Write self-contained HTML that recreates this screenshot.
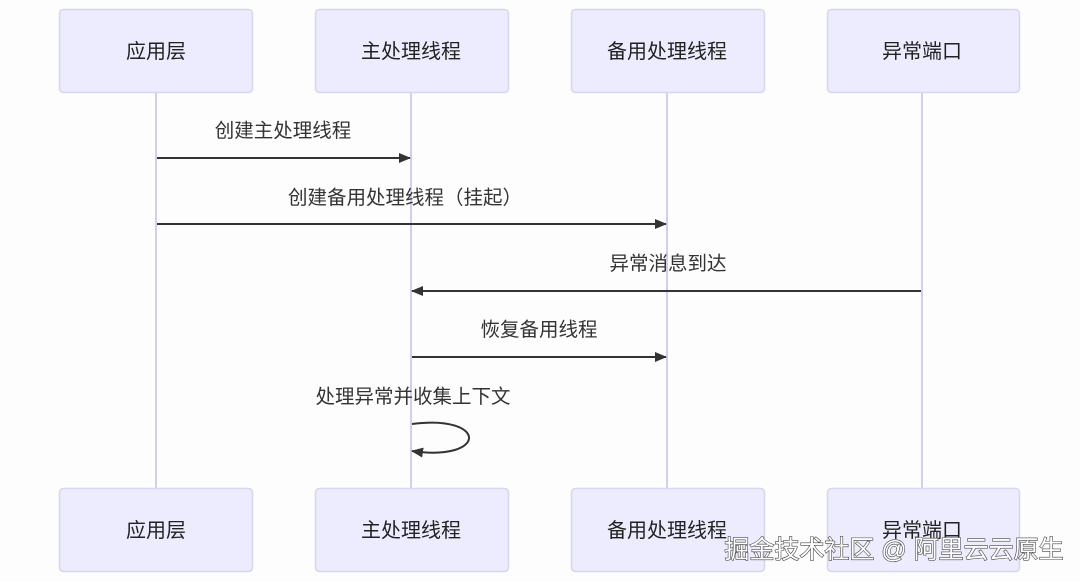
<!DOCTYPE html>
<html><head><meta charset="utf-8"><style>
body{margin:0;background:#fff;}
svg text{font-family:"Liberation Sans","Noto Sans CJK SC",sans-serif;}
</style></head><body>
<svg width="1080" height="582" viewBox="0 0 1080 582" xmlns="http://www.w3.org/2000/svg">
<defs><marker id="a" markerWidth="12" markerHeight="10" refX="11" refY="5" orient="auto" markerUnits="userSpaceOnUse"><path d="M0,0 L12,5 L0,10 z" fill="#333"/></marker></defs>
<rect width="1080" height="582" fill="#fdfdfd"/>
<g stroke="#d0d0ee" stroke-width="2">
<line x1="156" y1="92" x2="156" y2="488"/><line x1="411" y1="92" x2="411" y2="488"/>
<line x1="667" y1="92" x2="667" y2="488"/><line x1="922" y1="92" x2="922" y2="488"/>
</g>
<g fill="#ececfe" stroke="#d6d6f2" stroke-width="1.5">
<rect x="59.5" y="9.5" width="193" height="83" rx="4"/><rect x="315.5" y="9.5" width="193" height="83" rx="4"/>
<rect x="571.5" y="9.5" width="193" height="83" rx="4"/><rect x="827.5" y="9.5" width="192" height="83" rx="4"/>
<rect x="59.5" y="488.5" width="193" height="83" rx="4"/><rect x="315.5" y="488.5" width="193" height="83" rx="4"/>
<rect x="571.5" y="488.5" width="193" height="83" rx="4"/><rect x="827.5" y="488.5" width="192" height="83" rx="4"/>
</g>
<g font-size="20" fill="#222" text-anchor="middle">
<text x="156" y="58">应用层</text><text x="411" y="58">主处理线程</text><text x="667" y="58">备用处理线程</text><text x="922" y="58">异常端口</text>
<text x="156" y="537">应用层</text><text x="411" y="537">主处理线程</text><text x="667" y="537">备用处理线程</text><text x="922" y="537">异常端口</text>
</g>
<g stroke="#333" stroke-width="2" fill="none" marker-end="url(#a)">
<line x1="157" y1="158" x2="410" y2="158"/>
<line x1="157" y1="224" x2="666" y2="224"/>
<line x1="921" y1="291" x2="412" y2="291"/>
<line x1="412" y1="357" x2="666" y2="357"/>
<path d="M412,424 C488,414 488,462 412,451"/>
</g>
<g font-size="19.5" fill="#333" text-anchor="middle">
<text x="283" y="137">创建主处理线程</text>
<text x="405" y="204">创建备用处理线程（挂起）</text>
<text x="668" y="270">异常消息到达</text>
<text x="539" y="336">恢复备用线程</text>
<text x="413" y="403">处理异常并收集上下文</text>
</g>
<text x="894" y="558" font-size="25" text-anchor="middle" fill="#fff" stroke="#444" stroke-width="1.2" paint-order="stroke">掘金技术社区 @ 阿里云云原生</text>
</svg>
</body></html>
